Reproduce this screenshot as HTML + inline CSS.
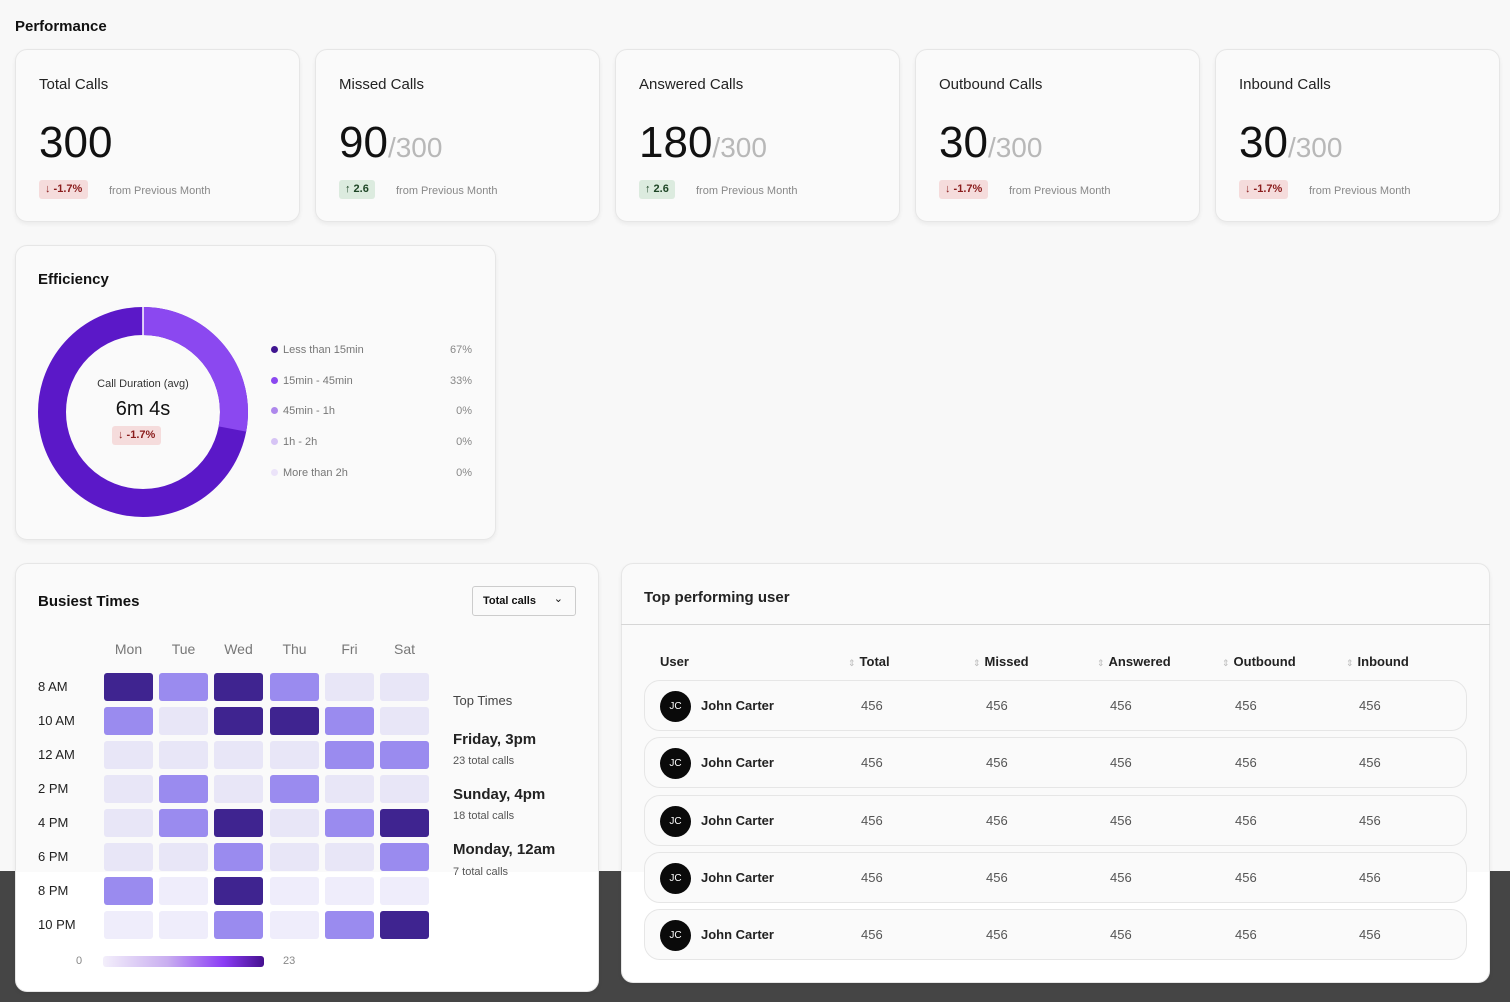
<!DOCTYPE html>
<html><head><meta charset="utf-8"><style>
*{box-sizing:border-box;margin:0;padding:0}
body{width:1510px;height:1002px;background:#f8f8f8;font-family:"Liberation Sans",sans-serif;position:relative;overflow:hidden;color:#111}
.a{position:absolute}
.band{left:0;top:871px;width:1510px;height:131px;background:#454545}
.card{position:absolute;background:linear-gradient(180deg,#fafafa 0,#fafafa var(--b,2000px),#fff var(--b,2000px));border:1px solid #e6e6e6;border-radius:12px;box-shadow:0 2px 4px rgba(0,0,0,.06)}
.kt{position:absolute;left:23px;top:26px;font-size:15px;color:#222}
.kv{position:absolute;left:23px;top:68px;font-size:44px;color:#111;white-space:nowrap}
.kv span{font-size:28px;color:#b8b8b8}
.bd{position:absolute;left:23px;top:130px;height:19px;border-radius:3px;font-size:11px;font-weight:bold;padding:3px 6px;white-space:nowrap}
.red{background:#f5dcdc;color:#8a1c1c}.grn{background:#dcebdf;color:#1e4526}
.fp{position:absolute;left:93px;top:135px;font-size:11px;color:#888;white-space:nowrap}
.leg{position:absolute;left:271px;font-size:11px;color:#777;width:201px}
.leg i{display:inline-block;width:7px;height:7px;border-radius:50%;margin-right:5px}
.leg b{float:right;font-weight:normal;color:#888}
.c{position:absolute;width:49px;height:28px;border-radius:3px}
.D{background:#3f2490}.M{background:#9a8bef}.L{background:#e8e6f7}.V{background:#efedfb}
.rl{position:absolute;left:38px;font-size:13px;color:#222}
.dl{position:absolute;top:641px;font-size:14px;color:#777;width:49px;text-align:center}
.row{position:absolute;left:644px;width:823px;height:51px;border:1px solid #e6e6e6;border-radius:16px;background:#fafafa}
.av{position:absolute;left:15px;top:10px;width:31px;height:31px;border-radius:50%;background:#0a0a0a;color:#fff;font-size:10px;text-align:center;line-height:31px}
.nm{position:absolute;left:56px;top:17px;font-size:13px;font-weight:bold;color:#222}
.n{position:absolute;top:17px;font-size:13px;color:#555}
.th{position:absolute;top:654px;font-size:13px;font-weight:bold;color:#222}
.th s{text-decoration:none;color:#bbb;font-size:9px;font-weight:normal;margin-right:4px}
</style></head><body>
<div class="a band"></div>
<div class="a" style="left:15px;top:18px;font-size:15px;font-weight:bold">Performance</div>

<div class="card" style="left:15px;top:49px;width:285px;height:173px"><div class="kt">Total Calls</div><div class="kv">300</div><div class="bd red">↓ -1.7%</div><div class="fp">from Previous Month</div></div>
<div class="card" style="left:315px;top:49px;width:285px;height:173px"><div class="kt">Missed Calls</div><div class="kv">90<span>/300</span></div><div class="bd grn">↑ 2.6</div><div class="fp" style="left:80px">from Previous Month</div></div>
<div class="card" style="left:615px;top:49px;width:285px;height:173px"><div class="kt">Answered Calls</div><div class="kv">180<span>/300</span></div><div class="bd grn">↑ 2.6</div><div class="fp" style="left:80px">from Previous Month</div></div>
<div class="card" style="left:915px;top:49px;width:285px;height:173px"><div class="kt">Outbound Calls</div><div class="kv">30<span>/300</span></div><div class="bd red">↓ -1.7%</div><div class="fp">from Previous Month</div></div>
<div class="card" style="left:1215px;top:49px;width:285px;height:173px"><div class="kt">Inbound Calls</div><div class="kv">30<span>/300</span></div><div class="bd red">↓ -1.7%</div><div class="fp">from Previous Month</div></div>

<div class="card" style="left:15px;top:245px;width:481px;height:295px"></div>
<div class="a" style="left:38px;top:271px;font-size:15px;font-weight:bold">Efficiency</div>
<svg class="a" style="left:38px;top:307px" width="210" height="210" viewBox="0 0 210 210">
<circle cx="105" cy="105" r="91" fill="none" stroke="#5b18c8" stroke-width="28"/>
<circle cx="105" cy="105" r="91" fill="none" stroke="#8b48f0" stroke-width="28" stroke-dasharray="160 572" transform="rotate(-90 105 105)"/>
<line x1="105" y1="0" x2="105" y2="28" stroke="#fff" stroke-width="1.5"/>
</svg>
<div class="a" style="left:63px;top:378px;width:160px;text-align:center;font-size:11px;color:#333">Call Duration (avg)</div>
<div class="a" style="left:63px;top:398px;width:160px;text-align:center;font-size:20px">6m 4s</div>
<div class="a bd red" style="left:112px;top:426px;font-weight:bold">↓ -1.7%</div>
<div class="leg" style="top:344px"><i style="background:#3f1590"></i>Less than 15min<b>67%</b></div>
<div class="leg" style="top:375px"><i style="background:#8b48f0"></i>15min - 45min<b>33%</b></div>
<div class="leg" style="top:405px"><i style="background:#ae88ec"></i>45min - 1h<b>0%</b></div>
<div class="leg" style="top:436px"><i style="background:#d6c4f5"></i>1h - 2h<b>0%</b></div>
<div class="leg" style="top:467px"><i style="background:#ebe3f9"></i>More than 2h<b>0%</b></div>

<div class="card" style="left:15px;top:563px;width:584px;height:429px;--b:308px"></div>
<div class="a" style="left:38px;top:593px;font-size:15px;font-weight:bold">Busiest Times</div>
<div class="a" style="left:472px;top:586px;width:104px;height:30px;border:1px solid #ccc;border-radius:3px;font-size:11px;font-weight:bold;padding:8px 10px">Total calls <span style="position:absolute;right:12px;top:5px;font-weight:normal">⌄</span></div>
<div class="dl" style="left:104px">Mon</div><div class="dl" style="left:159px">Tue</div><div class="dl" style="left:214px">Wed</div><div class="dl" style="left:270px">Thu</div><div class="dl" style="left:325px">Fri</div><div class="dl" style="left:380px">Sat</div>
<div class="rl" style="top:679px">8 AM</div><div class="rl" style="top:713px">10 AM</div><div class="rl" style="top:747px">12 AM</div><div class="rl" style="top:781px">2 PM</div><div class="rl" style="top:815px">4 PM</div><div class="rl" style="top:849px">6 PM</div><div class="rl" style="top:883px">8 PM</div><div class="rl" style="top:917px">10 PM</div>
<div id="hm"></div>
<div class="a" style="left:103px;top:956px;width:161px;height:11px;border-radius:3px;background:linear-gradient(90deg,#f3effb,#c9aef0 40%,#8b3cf5 75%,#45108f)"></div>
<div class="a" style="left:76px;top:955px;font-size:11px;color:#888">0</div>
<div class="a" style="left:283px;top:955px;font-size:11px;color:#888">23</div>
<div class="a" style="left:453px;top:693px;font-size:13px;color:#444">Top Times</div>
<div class="a" style="left:453px;top:731px;font-size:15px;font-weight:bold;color:#222">Friday, 3pm</div>
<div class="a" style="left:453px;top:755px;font-size:11px;color:#555">23 total calls</div>
<div class="a" style="left:453px;top:786px;font-size:15px;font-weight:bold;color:#222">Sunday, 4pm</div>
<div class="a" style="left:453px;top:810px;font-size:11px;color:#555">18 total calls</div>
<div class="a" style="left:453px;top:841px;font-size:15px;font-weight:bold;color:#222">Monday, 12am</div>
<div class="a" style="left:453px;top:866px;font-size:11px;color:#555">7 total calls</div>

<div class="card" style="left:621px;top:563px;width:869px;height:420px;--b:308px"></div>
<div class="a" style="left:644px;top:589px;font-size:15px;font-weight:bold;color:#222">Top performing user</div>
<div class="a" style="left:621px;top:624px;width:869px;height:1px;background:#d6d6d6"></div>
<div class="th" style="left:660px">User</div>
<div class="th" style="left:848px"><s>⇕</s>Total</div>
<div class="th" style="left:973px"><s>⇕</s>Missed</div>
<div class="th" style="left:1097px"><s>⇕</s>Answered</div>
<div class="th" style="left:1222px"><s>⇕</s>Outbound</div>
<div class="th" style="left:1346px"><s>⇕</s>Inbound</div>
<div id="rows"></div>
<script>
var g=["DMDMLL","MLDDML","LLLLMM","LMLMLL","LMDLMD","LLMLLM","MVDVVV","VVMVMD"],xs=[104,159,214,270,325,380],h="";
g.forEach(function(r,i){for(var j=0;j<6;j++)h+='<div class="c '+r[j]+'" style="left:'+xs[j]+'px;top:'+(673+i*34)+'px"></div>'});
document.getElementById("hm").innerHTML=h;
var ys=[680,737,795,852,909],cx=[216,341,465,590,714],s="";
ys.forEach(function(y){s+='<div class="row" style="top:'+y+'px"><div class="av">JC</div><div class="nm">John Carter</div>';cx.forEach(function(x){s+='<div class="n" style="left:'+x+'px">456</div>'});s+='</div>'});
document.getElementById("rows").innerHTML=s;
</script>
</body></html>
